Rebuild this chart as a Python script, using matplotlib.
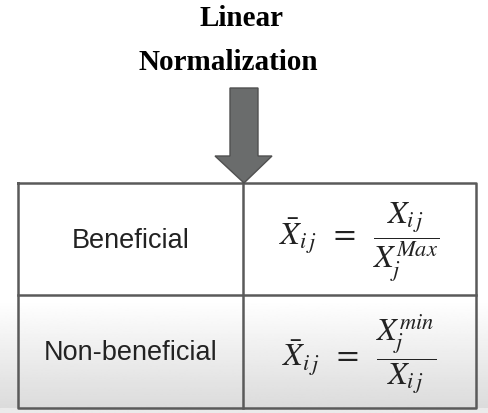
import numpy as np
import matplotlib.pyplot as plt
from matplotlib.patches import Polygon

# 見出しと表の中身
title_lines = ['Linear', 'Normalization']
row_labels = ['Beneficial', 'Non-beneficial']
formulas = [r'$\bar{X}_{i\,j} \;\;=\;\; \dfrac{X_{i\,j}}{X_j^{Max}}$',
            r'$\bar{X}_{i\,j} \;\;=\;\; \dfrac{X_j^{min}}{X_{i\,j}}$']

plt.rcParams['mathtext.fontset'] = 'stix'

W, H = 488, 413
fig = plt.figure(figsize=(W / 100, H / 100), dpi=100)
ax = fig.add_axes([0, 0, 1, 1])
ax.set_xlim(0, W)
ax.set_ylim(H, 0)
ax.axis('off')

# 下の方の灰色グラデーション
grad = np.linspace(1.0, 0.86, 100).reshape(-1, 1)
ax.imshow(grad, cmap='gray', vmin=0, vmax=1, aspect='auto',
          extent=(0, W, 408, 300), zorder=0)
ax.imshow(np.full((2, 1), 0.92), cmap='gray', vmin=0, vmax=1, aspect='auto',
          extent=(0, W, H, 408), zorder=0)

# タイトル
ax.text(242, 18, title_lines[0], ha='center', va='center', fontsize=21,
        fontweight='bold', family='Liberation Serif')
ax.text(228, 62, title_lines[1], ha='center', va='center', fontsize=21,
        fontweight='bold', family='Liberation Serif')

# 矢印
arrow = Polygon([(230, 88), (258, 88), (258, 156), (272, 156), (244, 183),
                 (215, 156), (230, 156)], closed=True,
                facecolor='#6a6c6c', edgecolor='#505050', lw=1, zorder=3)
ax.add_patch(arrow)

# 表
left, mid, right = 18, 243, 476
top, rowsep, bottom = 183, 295, 408
lc = '#5a5a5a'
ax.plot([left, right, right, left, left], [top, top, bottom, bottom, top],
        color=lc, lw=1.8, zorder=2)
ax.plot([mid, mid], [top, bottom], color=lc, lw=1.8, zorder=2)
ax.plot([left, right], [rowsep, rowsep], color=lc, lw=1.8, zorder=2)

row_centers = [(top + rowsep) / 2, (rowsep + bottom) / 2]
for lab, f, yc in zip(row_labels, formulas, row_centers):
    ax.text((left + mid) / 2, yc + 2, lab, ha='center', va='center',
            fontsize=19.5, family='Liberation Sans', color='#222222')
    ax.text((mid + right) / 2, yc + 3, f, ha='center', va='center',
            fontsize=23, color='#222222')

fig.savefig('out.png', dpi=100)
